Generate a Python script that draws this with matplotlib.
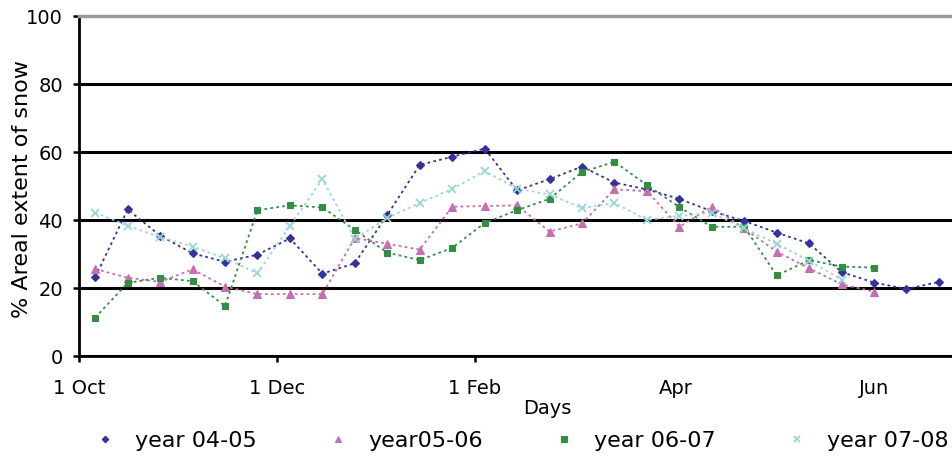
import numpy as np
import matplotlib
matplotlib.use("Agg")
import matplotlib.pyplot as plt

nan = np.nan

# x positions (days since 1 Oct), one point every 10 days
days = [5, 15, 25, 35, 45, 55, 65, 75, 85, 95, 105, 115, 125, 135,
        145, 155, 165, 175, 185, 195, 205, 215, 225, 235, 245, 255, 265]

year_04_05 = [23.2, 43.1, 35.4, 30.2, 27.7, 29.8, 34.6, 24.2, 27.3, 41.5,
              56.2, 58.6, 61.0, 48.7, 52.0, 55.7, 51.0, 49.0, 46.2, 42.6,
              39.7, 36.3, 33.1, 24.7, 21.6, 19.7, 21.8]
year_05_06 = [25.6, 23.0, 21.8, 25.5, 20.4, 18.2, 18.2, 18.2, 34.7, 33.0,
              31.3, 43.9, 44.1, 44.3, 36.6, 39.0, 49.0, 48.5, 38.0, 43.9,
              37.5, 30.7, 25.8, 21.1, 18.9, nan, nan]
year_06_07 = [11.3, 21.5, 23.0, 22.0, 14.7, 42.9, 44.3, 43.7, 37.1, 30.4,
              28.2, 31.8, 39.1, 42.9, 46.2, 54.1, 57.1, 50.3, 43.8, 38.0,
              38.0, 23.7, 28.2, 26.3, 26.0, nan, nan]
year_07_08 = [42.2, 38.3, 35.0, 32.2, 28.7, 24.3, 38.2, 52.0, 34.5, 40.6,
              45.0, 49.1, 54.4, 49.2, 47.5, 43.5, 45.0, 40.0, 41.2, 42.1,
              37.5, 33.0, 28.0, 22.5, nan, nan, nan]

series_labels = ["year 04-05", "year05-06", "year 06-07", "year 07-08"]
tick_days = [0, 61, 122, 184, 245]
tick_labels = ["1 Oct", "1 Dec", "1 Feb", "Apr", "Jun"]
y_ticks = [0, 20, 40, 60, 80, 100]

colors = ["#333399", "#C66FAF", "#338E45", "#99D6D6"]
markers = ["D", "^", "s", "x"]
msizes = [4.2, 5.5, 5.0, 5.5]

W, H = 952, 461
fig = plt.figure(figsize=(W / 100, H / 100), dpi=100)
ax = fig.add_axes([79 / W, 105 / H, (W - 79) / W, 340 / H])

for vals, lab, c, m, ms in zip([year_04_05, year_05_06, year_06_07, year_07_08],
                               series_labels, colors, markers, msizes):
    ax.plot(days, vals, color=c, lw=1.3, linestyle=(0, (1.5, 1.8)),
            marker=m, markersize=ms, markeredgewidth=1.3 if m == "x" else 0.8,
            markeredgecolor=c, markerfacecolor=c, label=lab, clip_on=False)

ax.set_xlim(0, (W - 79) / 3.245)
ax.set_ylim(0, 100)
ax.set_yticks(y_ticks)
ax.set_yticklabels([str(v) for v in y_ticks])
ax.set_xticks(tick_days)
ax.set_xticklabels(tick_labels)

ax.yaxis.grid(True, color="black", lw=2.2)
ax.set_axisbelow(True)

for s in ["left", "bottom"]:
    ax.spines[s].set_linewidth(2.0)
    ax.spines[s].set_color("black")
ax.spines["right"].set_visible(False)
ax.spines["top"].set_color("#999999")
ax.spines["top"].set_linewidth(2.4)

ax.tick_params(axis="y", direction="out", length=4.5, width=1.8, pad=7, labelsize=14)
ax.tick_params(axis="x", direction="out", length=4.5, width=1.8, pad=12, labelsize=14)
for t in ax.xaxis.get_major_ticks()[3:]:
    t.tick1line.set_visible(False)

ax.set_ylabel("% Areal extent of snow", fontsize=16)
ax.yaxis.set_label_coords(-0.054, 0.49)
ax.set_xlabel("Days", fontsize=14)
ax.xaxis.set_label_coords(0.537, -0.125)

handles, labels = ax.get_legend_handles_labels()
leg = fig.legend(handles, labels, loc="center left", bbox_to_anchor=(94 / W, 20 / H),
                 ncol=4, frameon=False, fontsize=16, handlelength=1.0,
                 handletextpad=0.86, columnspacing=3.15, borderpad=0,
                 borderaxespad=0, markerscale=0.8)
for l in leg.get_lines():
    l.set_linestyle("none")

fig.savefig("out.png", dpi=100)
